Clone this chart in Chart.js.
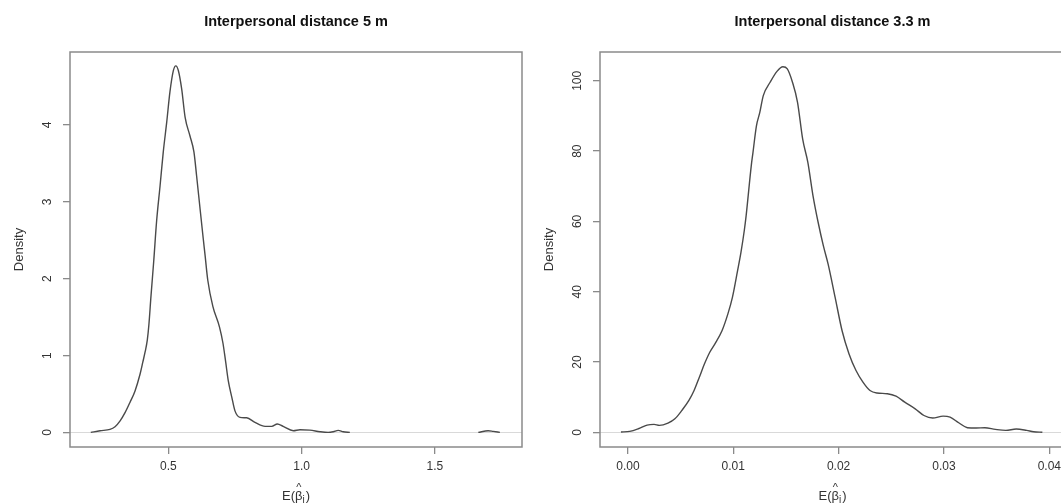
<!DOCTYPE html>
<html><head><meta charset="utf-8">
<script src="https://cdn.jsdelivr.net/npm/chart.js@4/dist/chart.umd.min.js"></script>
<style>
html,body{margin:0;padding:0;background:#fff;overflow:hidden;width:1061px;height:504px;position:relative;}
#w1{position:absolute;left:0;top:0;width:530px;height:504px;}
#w2{position:absolute;left:530px;top:0;width:545px;height:504px;}
</style></head><body>
<div id="w1"><canvas id="c1"></canvas></div>
<div id="w2"><canvas id="c2"></canvas></div>
<script>
// ---------- data ----------
const titleLeft = 'Interpersonal distance 5 m';
const titleRight = 'Interpersonal distance 3.3 m';
const yAxisLabel = 'Density';

const leftX = [0.209,0.244,0.281,0.300,0.319,0.338,0.356,0.375,0.394,0.404,0.413,0.421,0.427,0.435,0.445,0.456,0.469,0.481,0.494,0.506,0.519,0.528,0.5375,0.550,0.563,0.581,0.596,0.606,0.619,0.631,0.638,0.648,0.667,0.692,0.705,0.715,0.725,0.738,0.750,0.769,0.794,0.825,0.863,0.888,0.909,0.931,0.969,0.994,1.031,1.069,1.100,1.119,1.1375,1.156,1.181,1.42,1.663,1.70,1.719,1.744];
const leftY = [0,0.022,0.039,0.074,0.15,0.26,0.39,0.54,0.76,0.91,1.05,1.20,1.40,1.78,2.22,2.75,3.21,3.65,4.04,4.43,4.71,4.77,4.71,4.47,4.10,3.86,3.65,3.34,2.91,2.52,2.30,1.98,1.64,1.37,1.16,0.92,0.67,0.46,0.28,0.196,0.19,0.13,0.078,0.078,0.11,0.078,0.022,0.035,0.03,0.009,0.0,0.009,0.026,0.009,0,null,0,0.022,0.013,0];

const rightX = [-0.00066,0.00017,0.00099,0.00182,0.00248,0.00298,0.0038,0.00446,0.00512,0.00579,0.00628,0.00678,0.00727,0.00777,0.00826,0.00893,0.00949,0.00992,0.01041,0.01073,0.01105,0.01122,0.01171,0.01187,0.0122,0.01252,0.01285,0.0135,0.01415,0.01471,0.01513,0.01562,0.0161,0.01659,0.01708,0.01757,0.01806,0.01855,0.01901,0.01967,0.02033,0.02099,0.02165,0.02231,0.02298,0.02364,0.02463,0.02545,0.02628,0.02727,0.0281,0.02893,0.02992,0.03058,0.0314,0.03223,0.03306,0.03388,0.03488,0.03587,0.03686,0.03785,0.03851,0.03934];
const rightY = [0.09,0.28,1.04,2.08,2.27,1.99,2.65,3.88,6.24,9.08,11.9,15.7,19.5,22.8,25.2,28.9,33.7,38.4,46.0,51.2,57.5,61.6,75.9,79.6,87.2,91.0,95.8,99.6,102.7,104.0,103.4,99.6,93.9,83.4,76.8,67.3,59.7,53.1,47.8,38.4,28.9,22.3,17.6,14.3,11.9,11.2,11.0,10.3,8.6,6.7,4.8,4.07,4.63,4.35,2.74,1.32,1.23,1.32,0.85,0.57,0.95,0.57,0.19,0.05];

const leftXTicks = [0.5, 1.0, 1.5];
const leftXTickLabels = ['0.5', '1.0', '1.5'];
const leftYTicks = [0, 1, 2, 3, 4];
const leftYTickLabels = ['0', '1', '2', '3', '4'];
const rightXTicks = [0, 0.01, 0.02, 0.03, 0.04];
const rightXTickLabels = ['0.00', '0.01', '0.02', '0.03', '0.04'];
const rightYTicks = [0, 20, 40, 60, 80, 100];
const rightYTickLabels = ['0', '20', '40', '60', '80', '100'];

// ---------- drawing ----------
const FF = '"Liberation Sans", Arial, sans-serif';
const FRAME = '#8a8a8a';

function makePanel(id, title, xs, ys, xTicks, xLabels, yTicks, yLabels, xmin, xmax, ymin, ymax, padRight) {
  const decor = {
    id: 'decor' + id,
    beforeDatasetsDraw(chart) {
      const {ctx, chartArea: a, scales: {y}} = chart;
      ctx.save();
      ctx.strokeStyle = '#d9d9d9';
      ctx.lineWidth = 1;
      const y0 = Math.round(y.getPixelForValue(0)) + 0.5;
      ctx.beginPath(); ctx.moveTo(a.left, y0); ctx.lineTo(a.right, y0); ctx.stroke();
      ctx.restore();
    },
    afterDraw(chart) {
      const {ctx, chartArea: a, scales: {x, y}} = chart;
      ctx.save();
      // frame
      ctx.strokeStyle = FRAME; ctx.lineWidth = 1.5;
      ctx.strokeRect(a.left, a.top, a.right - a.left, a.bottom - a.top);
      const cx = (a.left + a.right) / 2;
      // title
      ctx.fillStyle = '#111';
      ctx.font = 'bold 14.5px ' + FF;
      ctx.textAlign = 'center'; ctx.textBaseline = 'middle';
      ctx.fillText(title, cx, 22);
      // x tick labels
      ctx.fillStyle = '#333';
      ctx.font = '12px ' + FF;
      xTicks.forEach((v, i) => ctx.fillText(xLabels[i], x.getPixelForValue(v), 467));
      // y tick labels (rotated)
      yTicks.forEach((v, i) => {
        ctx.save();
        ctx.translate(a.left - 22.5, y.getPixelForValue(v));
        ctx.rotate(-Math.PI / 2);
        ctx.fillText(yLabels[i], 0, 0);
        ctx.restore();
      });
      // y axis title
      ctx.save();
      ctx.font = '13px ' + FF;
      ctx.translate(a.left - 51, (a.top + a.bottom) / 2);
      ctx.rotate(-Math.PI / 2);
      ctx.fillText(yAxisLabel, 0, 0);
      ctx.restore();
      // x axis title E(beta-hat_i)
      ctx.textBaseline = 'alphabetic'; ctx.textAlign = 'left';
      ctx.font = '13px ' + FF;
      const wE = ctx.measureText('E(').width, wB = ctx.measureText('\u03B2').width, wP = ctx.measureText(')').width;
      ctx.font = '10px ' + FF;
      const wI = ctx.measureText('i').width + 1;
      let sx = cx - (wE + wB + wI + wP) / 2;
      const base = 500;
      ctx.font = '13px ' + FF;
      ctx.fillText('E(', sx, base);
      ctx.fillText('\u03B2', sx + wE, base);
      ctx.fillText(')', sx + wE + wB + wI, base);
      ctx.font = '10px ' + FF;
      ctx.fillText('i', sx + wE + wB, base + 3);
      ctx.textAlign = 'center';
      ctx.font = '11px ' + FF;
      ctx.fillText('^', sx + wE + wB / 2, base - 9);
      ctx.restore();
    }
  };
  return new Chart(document.getElementById(id), {
    type: 'line',
    data: {
      datasets: [{
        data: xs.map((v, i) => ({x: v, y: ys[i]})),
        borderColor: '#4a4a4a',
        borderWidth: 1.4,
        pointRadius: 0,
        fill: false,
        spanGaps: false,
        cubicInterpolationMode: 'monotone'
      }]
    },
    options: {
      responsive: true,
      maintainAspectRatio: false,
      animation: false,
      devicePixelRatio: 1,
      layout: {padding: {left: 0, top: 52, right: padRight, bottom: 0}},
      plugins: {legend: {display: false}, tooltip: {enabled: false}, title: {display: false}},
      scales: {
        x: {
          type: 'linear', min: xmin, max: xmax,
          afterBuildTicks: s => { s.ticks = xTicks.map(v => ({value: v})); },
          afterFit: s => { s.height = 57; },
          ticks: {display: false},
          grid: {display: true, drawOnChartArea: false, drawTicks: true, tickLength: 7, color: FRAME, lineWidth: 1.3},
          border: {display: false}
        },
        y: {
          type: 'linear', min: ymin, max: ymax,
          afterBuildTicks: s => { s.ticks = yTicks.map(v => ({value: v})); },
          afterFit: s => { s.width = 70; },
          ticks: {display: false},
          grid: {display: true, drawOnChartArea: false, drawTicks: true, tickLength: 7, color: FRAME, lineWidth: 1.3},
          border: {display: false}
        }
      }
    },
    plugins: [decor]
  });
}

makePanel('c1', titleLeft, leftX, leftY, leftXTicks, leftXTickLabels, leftYTicks, leftYTickLabels, 0.131, 1.827, -0.19, 4.95, 8);
makePanel('c2', titleRight, rightX, rightY, rightXTicks, rightXTickLabels, rightYTicks, rightYTickLabels, -0.00265, 0.04149, -4.16, 108.2, 10);
</script>
</body></html>
